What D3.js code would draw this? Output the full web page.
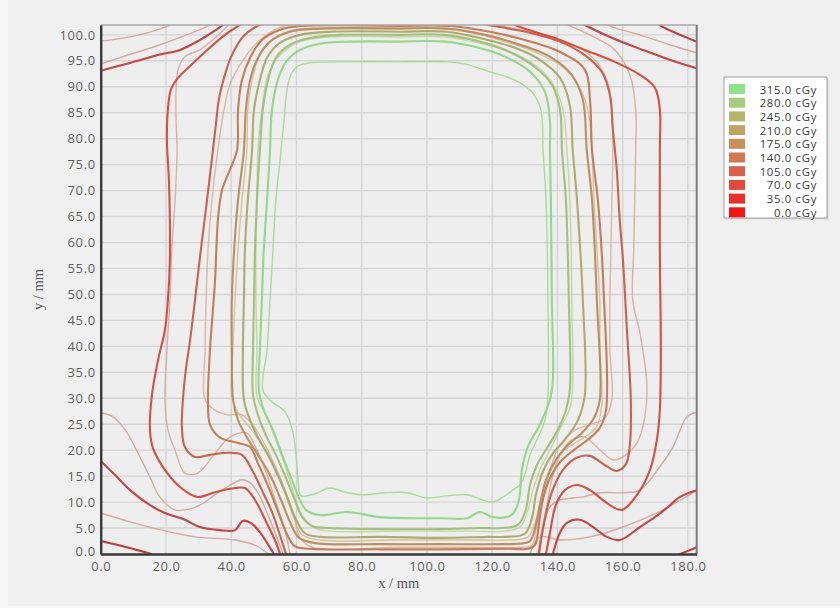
<!DOCTYPE html>
<html>
<head>
<meta charset="utf-8">
<script src="https://cdn.jsdelivr.net/npm/d3@7"></script>
<style>
  body { margin: 0; background: #f7f7f7; }
  svg { display: block; }
</style>
</head>
<body>
<svg id="chart" width="840" height="608"></svg>
<script>
// ---- legend dose levels (cGy) ----
const doseLevels = [315, 280, 245, 210, 175, 140, 105, 70, 35, 0];
const xTicks = [0, 20, 40, 60, 80, 100, 120, 140, 160, 180];
const yTicks = [0, 5, 10, 15, 20, 25, 30, 35, 40, 45, 50, 55, 60, 65, 70, 75, 80, 85, 90, 95, 100];

// ---- measured isodose lines (x mm, y mm) ----
const meas35TopLeft = [[0,93.1],[9,94.6],[18.2,96.2],[24.3,97.1],[30.4,99],[35,100.8],[39,102.6]];
const meas35BottomLeft = [[0,17.9],[4.4,15.2],[9,12.3],[15.1,9.4],[19.7,7.9],[25.8,6.6],[30.4,5.2],[36.6,4.6],[41.2,4.6],[43.6,6.4],[46.4,5.8],[49.4,3.7],[51.9,1.2],[53.1,0]];
const meas35TopRight = [[146.9,102.5],[149,101.7],[156.1,99.6],[166.2,97.1],[174.4,95.2],[183,93.5]];
const meas35BottomRight = [[182.8,12.3],[177.6,11.0],[173.6,8.9],[169.9,7.1],[165.3,5.2],[159.2,2.7],[155.2,3.3],[150.9,5.2],[146.9,6.6],[142.9,6.0],[140.7,4.0],[138.6,0]];
const meas0BottomLeft = [[0,2.5],[8,1.3],[15.5,0]];
const meas0TopRight = [[170,102.5],[172.4,101.5],[177.7,100],[183,98.6]];
const meas0BottomRight = [[177.6,0],[180.8,0.8],[183,1.4]];

const meas70Left = [[44.2,102.5],[38.1,100.0],[32.0,96.7],[27.4,94.0],[23.7,91.7],[21.5,89.4],[20.6,85.6],[20.3,79.8],[20.9,72.1],[21.2,64.4],[21.2,56.6],[20.6,48.9],[19.7,43.2],[17.6,37.4],[15.7,30.6],[15.1,23.9],[16.0,20.4],[19.7,16.2],[24.3,12.9],[29.5,11.0],[35.0,11.9],[41.2,12.7],[44.2,12.7],[47.3,10.4],[50.4,6.6],[53.4,2.7],[55.0,0]];
const meas70Right = [[136.5,0],[137.7,4.0],[139.5,9.4],[142.3,12.3],[146.0,13.3],[150.0,12.3],[155.2,9.8],[159.8,8.5],[164.4,11.4],[168.4,16.2],[170.5,22.0],[171.4,27.7],[171.7,39.3],[171.4,58.6],[171.4,77.8],[171.4,85.6],[169.9,89.8],[165.3,92.3],[157.6,94.8],[148.4,97.1],[139.2,99.4],[128.5,101.5],[125.4,102.5]];

const meas105Left = [[50.4,102.5],[44.2,100.0],[40.2,96.1],[37.8,91.7],[36.2,87.5],[35.3,82.7],[34.4,77.8],[32.6,68.2],[30.7,58.6],[28.9,48.9],[27.4,41.2],[26.1,35.5],[25.2,29.7],[24.9,24.5],[25.8,20.6],[28.9,18.7],[33.5,19.1],[39.0,19.5],[43.3,19.1],[46.4,16.2],[49.4,12.3],[52.5,8.1],[54.9,3.7],[56.8,0]];
const meas105Right = [[134.3,0],[135.5,4.6],[137.1,9.4],[138.9,12.9],[141.7,16.2],[145.7,18.5],[150.0,18.9],[154.6,17.1],[158.2,16.0],[161.0,17.3],[162.2,21.0],[162.5,29.7],[161.3,43.2],[160.1,56.6],[159.1,64.4],[158.2,74.0],[157.0,81.7],[156.1,88.4],[153.6,92.9],[148.4,96.1],[140.8,98.7],[131.6,100.4],[122.4,101.5],[113.2,102.5]];

const meas140 = [[91.7,101.7],[61.1,101.7],[55.0,101.0],[49.4,99.0],[45.8,95.6],[43.3,91.3],[42.1,85.6],[41.8,77.8],[39.6,74.0],[37.2,70.1],[36.0,64.9],[35.0,52.2],[33.5,39.3],[32.9,29.7],[33.5,24.9],[36.6,22.4],[42.1,21.4],[45.8,20.6],[48.2,17.5],[51.3,13.1],[54.3,8.3],[56.8,4.2],[59.5,1.5],[64.1,1.0],[85.6,0.9],[104.0,0.9],[125.4,1.0],[131.0,1.0],[133.1,1.7],[134.3,5.6],[135.5,10.4],[137.7,14.6],[140.8,17.7],[145.0,20.0],[149.3,22.0],[153.0,24.3],[154.9,27.7],[154.3,48.9],[152.4,68.2],[150.6,77.8],[150.0,87.5],[148.4,93.3],[140.8,96.7],[130.0,99.0],[119.3,100.6],[107.0,101.7],[91.7,101.7]];

const meas175 = [[91.7,101.2],[67.2,101.2],[58.0,100.6],[51.9,98.7],[48.2,95.6],[45.8,91.3],[44.5,85.6],[43.9,77.8],[42.1,68.2],[40.9,58.6],[40.2,48.9],[40.2,39.3],[40.6,29.7],[42.1,25.8],[44.8,22.5],[48.2,19.1],[51.9,15.2],[55.3,10.4],[58.0,6.2],[60.8,3.1],[65.7,2.1],[85.6,1.9],[104.0,1.9],[123.9,1.9],[128.5,2.0],[131.6,2.5],[133.4,5.6],[134.6,9.4],[136.5,14.3],[139.5,18.1],[143.2,21.0],[147.5,23.3],[151.2,26.2],[153.0,29.7],[152.1,48.9],[150.6,68.2],[149.0,77.8],[147.8,87.5],[144.4,92.3],[137.7,95.8],[128.5,98.1],[117.8,100.0],[106.1,101.2],[91.7,101.2]];

const meas245 = [[91.7,100.6],[70.3,100.6],[61.1,100.0],[55.0,98.5],[51.0,95.6],[48.8,91.3],[47.0,85.6],[46.4,77.8],[45.1,68.2],[44.2,58.6],[43.9,48.9],[43.6,39.3],[43.9,29.7],[45.8,25.8],[48.2,22.5],[51.3,19.1],[54.3,15.2],[57.1,11.0],[59.9,6.6],[62.6,4.0],[67.2,3.3],[85.6,3.3],[104.0,3.1],[119.3,3.3],[123.9,3.3],[130.0,3.9],[132.2,6.9],[133.4,11.4],[135.5,15.8],[138.3,19.1],[142.3,22.0],[146.3,25.8],[148.4,30.6],[147.8,48.9],[146.0,68.2],[144.7,77.8],[143.8,86.5],[140.8,91.7],[134.6,95.2],[127.0,97.5],[116.2,99.4],[106.1,100.6],[91.7,100.6]];

const meas280 = [[91.7,100.0],[73.3,100.0],[64.1,99.4],[58.0,98.1],[53.7,95.6],[51.3,91.3],[49.7,85.6],[48.8,77.8],[47.9,68.2],[47.3,58.6],[47.0,48.9],[46.7,39.3],[46.7,30.6],[48.2,26.8],[50.6,22.9],[53.7,19.1],[56.8,14.6],[59.5,10.4],[62.0,6.9],[64.8,5.4],[70.3,5.0],[85.6,4.8],[104.0,4.8],[116.2,5.0],[122.4,5.0],[127.9,5.6],[130.3,8.5],[131.6,13.3],[133.7,17.1],[136.8,20.4],[140.1,23.9],[142.6,27.7],[143.8,31.6],[143.5,48.9],[142.6,68.2],[141.4,77.8],[140.8,85.6],[138.3,90.4],[133.1,93.8],[125.4,96.7],[116.2,98.7],[105.5,100.0],[91.7,100.0]];

const meas315 = [[91.7,98.7],[76.4,98.7],[67.2,98.3],[61.1,97.1],[56.8,94.8],[54.3,91.3],[52.5,85.6],[51.9,77.8],[51.0,68.2],[50.0,58.6],[49.4,48.9],[48.8,39.3],[48.5,31.6],[50.0,27.7],[52.8,23.9],[55.6,19.1],[58.6,14.3],[60.8,10.8],[62.9,8.5],[67.2,7.5],[75.5,8.1],[85.6,7.1],[95.7,6.9],[104.0,6.9],[112.3,6.9],[116.2,8.1],[120.2,7.1],[124.5,7.1],[126.3,7.7],[128.2,10.4],[129.1,16.2],[130.9,20.6],[134.6,24.9],[137.7,29.7],[138.6,33.5],[138.3,48.9],[138.0,68.2],[137.7,77.8],[137.7,83.6],[136.2,89.0],[131.6,92.9],[123.9,95.8],[114.7,97.7],[105.5,98.7],[91.7,98.7]];

// ---- calculated isodose lines (x mm, y mm) ----
const calc35TopLeftA = [[0,98.8],[9,99.6],[19.7,101.5],[22.8,102.5]];
const calc35TopLeftB = [[0,94.4],[6.8,95.8],[18.2,98.1],[30.4,101],[35,102.3]];
const calc35BottomLeft = [[0,7.9],[9,6.2],[18.8,4.6],[29,3.3],[41.2,2.7],[47.3,1.7],[51.4,0]];
const calc35TopRight = [[152.9,102.5],[157.9,101.3],[165.2,100],[174.4,98.1],[183,96.5]];
const calc35BottomRight = [[131.6,0],[134.7,3.3],[140.9,2.7],[150.0,3.3],[160.1,5.2],[170.5,7.9],[183,12.3]];
const calc70Left = [[0.1,27.2],[3.8,26.4],[7.5,23.9],[10.5,20.6],[15.1,14.8],[18.2,10.9],[22.8,8.5],[27.4,8.7],[30.4,9.4],[35.0,11.4],[39.0,13.0],[43.3,14.3],[45.8,13.7],[48.2,11.8],[51.3,7.5],[54.3,2.7],[55.9,0]];
const calc70Right = [[183,27.4],[179.7,26.4],[175.4,20.6],[171.4,16.8],[165.3,12.3],[160.1,11.8],[153.0,11.8],[147.8,11.0],[140.8,10.4],[137.7,9.1],[135.5,4.6],[134.6,0]];
const calc105Left = [[40.2,102.5],[35.0,99.4],[30.4,97.1],[25.8,95.8],[23.7,93.3],[23.1,89.4],[23.1,83.6],[23.4,77.8],[22.8,68.2],[21.8,58.6],[21.2,48.9],[20.3,39.3],[19.7,29.7],[20.6,23.9],[22.8,20.0],[25.8,15.6],[29.8,15.6],[34.7,19.1],[39.6,22.5],[44.8,23.3],[47.9,20.0],[51.0,15.2],[54.0,9.4],[56.5,4.6],[58.0,0]];
const calc105Right = [[134.0,0],[135.2,4.6],[136.8,9.4],[138.3,14.3],[140.8,19.1],[144.4,22.0],[148.4,22.5],[152.1,20.6],[157.0,18.1],[160.1,18.7],[164.4,21.4],[166.8,26.4],[167.4,33.0],[165.3,42.6],[163.1,48.9],[163.4,58.6],[163.7,68.2],[164.0,77.8],[164.0,85.6],[162.2,92.3],[157.6,97.1],[149.9,100.0],[140.8,102.5]];
const calc140 = [[61.1,102.5],[53.4,101.0],[47.3,98.1],[42.7,94.2],[39.6,90.4],[37.8,85.6],[35.9,77.8],[34.1,68.2],[32.9,58.6],[32.3,48.9],[32.0,39.3],[32.0,29.7],[35.0,27.7],[39.0,26.8],[43.3,26.8],[47.3,24.3],[50.4,21.0],[54.0,16.2],[57.1,11.4],[59.5,6.6],[61.1,3.1],[64.8,1.3],[91.7,1.3],[113.2,1.3],[128.5,1.3],[132.2,1.7],[133.7,5.6],[135.5,10.4],[137.7,16.2],[140.8,21.0],[145.4,23.9],[150.0,24.9],[154.6,26.2],[156.7,29.7],[156.1,39.3],[156.1,48.9],[156.4,58.6],[156.7,68.2],[157.0,77.8],[156.7,85.6],[155.2,91.3],[150.0,96.1],[140.8,99.0],[128.5,101.0],[116.2,102.5]];
const calc210 = [[91.7,101.3],[67.2,101.3],[59.5,101.0],[53.4,99.4],[48.8,96.1],[46.4,91.3],[45.1,85.6],[44.8,77.8],[43.3,68.2],[42.1,58.6],[41.2,48.9],[40.5,39.3],[40.2,30.3],[42.1,27.2],[45.8,24.3],[49.4,21.0],[53.1,16.6],[56.5,11.8],[59.2,6.9],[61.7,3.7],[67.2,2.7],[91.7,2.7],[113.2,2.7],[125.4,2.7],[131.0,3.3],[133.4,6.6],[135.2,11.0],[137.7,15.8],[141.7,19.7],[147.0,22.0],[151.8,24.3],[153.6,28.7],[153.0,39.3],[153.0,48.9],[152.1,58.6],[151.2,68.2],[150.6,77.8],[149.3,85.6],[146.3,90.4],[140.8,94.2],[131.6,97.1],[122.4,99.0],[110.1,101.0],[97.9,101.3],[91.7,101.3]];
const calc280 = [[91.7,99.6],[70.3,99.6],[61.1,98.7],[55.0,96.1],[51.3,92.3],[49.4,85.6],[48.2,77.8],[47.9,68.2],[47.6,58.6],[47.6,48.9],[47.9,39.3],[47.9,30.3],[50.6,26.8],[53.7,22.0],[56.5,17.1],[58.9,12.3],[61.7,7.5],[65.7,5.0],[70.3,4.4],[91.7,4.4],[113.2,4.4],[123.9,4.4],[128.5,5.2],[131.0,8.5],[132.5,12.3],[134.6,16.2],[137.7,20.0],[141.4,24.9],[144.1,28.7],[144.4,48.9],[143.8,68.2],[142.9,77.8],[141.7,85.6],[138.3,90.9],[133.1,94.2],[123.9,97.1],[113.2,98.8],[105.5,99.6],[91.7,99.6]];
const calc315 = [[91.7,94.8],[76.4,94.8],[64.1,94.6],[60.5,94.0],[58.3,92.3],[57.1,89.4],[56.2,83.6],[55.3,77.8],[53.7,68.2],[52.8,58.6],[51.9,48.9],[51.0,39.3],[49.7,31.6],[52.5,29.3],[56.5,27.4],[58.6,24.3],[59.9,19.1],[60.5,14.3],[61.4,11.2],[65.7,11.6],[70.3,12.7],[74.9,11.9],[80.4,11.4],[87.1,11.8],[93.9,11.8],[100.0,10.8],[106.1,11.2],[112.3,11.4],[116.2,10.6],[120.2,10.0],[123.9,11.2],[126.3,12.3],[128.5,13.3],[130.0,15.2],[131.6,19.1],[133.7,22.0],[136.2,25.8],[137.1,30.6],[137.1,48.9],[136.5,68.2],[135.6,77.8],[134.9,85.6],[132.2,89.0],[127.0,91.3],[119.3,92.9],[111.6,94.4],[106.1,94.8],[91.7,94.8]];

// line list: which data array belongs to which level and set
const isodoseLines = [
  { pts: calc35TopLeftA, level: 35, set: "calc" },
  { pts: calc35TopLeftB, level: 35, set: "calc" },
  { pts: calc35BottomLeft, level: 35, set: "calc" },
  { pts: calc35TopRight, level: 35, set: "calc" },
  { pts: calc35BottomRight, level: 35, set: "calc" },
  { pts: calc70Left, level: 70, set: "calc" },
  { pts: calc70Right, level: 70, set: "calc" },
  { pts: calc105Left, level: 105, set: "calc" },
  { pts: calc105Right, level: 105, set: "calc" },
  { pts: calc140, level: 140, set: "calc" },
  { pts: calc210, level: 210, set: "calc" },
  { pts: calc280, level: 280, set: "calc" },
  { pts: calc315, level: 315, set: "calc" },
  { pts: meas0BottomLeft, level: 0, set: "meas" },
  { pts: meas0TopRight, level: 0, set: "meas" },
  { pts: meas0BottomRight, level: 0, set: "meas" },
  { pts: meas35TopLeft, level: 35, set: "meas" },
  { pts: meas35BottomLeft, level: 35, set: "meas" },
  { pts: meas35TopRight, level: 35, set: "meas" },
  { pts: meas35BottomRight, level: 35, set: "meas" },
  { pts: meas70Left, level: 70, set: "meas" },
  { pts: meas70Right, level: 70, set: "meas" },
  { pts: meas105Left, level: 105, set: "meas" },
  { pts: meas105Right, level: 105, set: "meas" },
  { pts: meas140, level: 140, set: "meas" },
  { pts: meas175, level: 175, set: "meas" },
  { pts: meas245, level: 245, set: "meas" },
  { pts: meas280, level: 280, set: "meas" },
  { pts: meas315, level: 315, set: "meas" }
];

// ---- styling ----
const legendColor = {
  315: "#8fe28c", 280: "#a6cd7d", 245: "#b4b66c", 210: "#c0a464", 175: "#c98e5a",
  140: "#d07854", 105: "#d9604a", 70: "#e14a3b", 35: "#e9302b", 0: "#f41616"
};
const measColor = {
  315: "#8dd784", 280: "#9fbf74", 245: "#a9a866", 210: "#b89a5e", 175: "#b88a5a",
  140: "#c47650", 105: "#c85a45", 70: "#d6473a", 35: "#c53a3d", 0: "#bf2f32"
};
const calcColor = {
  315: "#a2d98f", 280: "#bcd3a0", 245: "#cbc6a0", 210: "#d3bc98", 175: "#d9b49a",
  140: "#ddb09c", 105: "#d9a898", 70: "#cfa39a", 35: "#d2a29c", 0: "#d09a9a"
};

const svg = d3.select("#chart");
const W = 840, H = 608;
const frame = { left: 100.7, right: 696.7, top: 25, bottom: 554 };

const x = d3.scaleLinear().domain([0, 182.7]).range([frame.left, frame.right]);
const y = d3.scaleLinear().domain([0, 101.9]).range([frame.bottom, frame.top]);

// panel background
svg.append("rect").attr("x", 8).attr("y", 0).attr("width", W - 8).attr("height", 606).attr("fill", "#f0f0f0");

// plot background
svg.append("rect")
  .attr("x", frame.left).attr("y", frame.top)
  .attr("width", frame.right - frame.left).attr("height", frame.bottom - frame.top)
  .attr("fill", "#eeeeee");

// grid
const grid = svg.append("g").attr("stroke", "#d5d5d5").attr("stroke-width", 1.4);
grid.selectAll("line.v").data(xTicks).join("line")
  .attr("x1", d => x(d)).attr("x2", d => x(d))
  .attr("y1", frame.top).attr("y2", frame.bottom);
grid.selectAll("line.h").data(yTicks).join("line")
  .attr("x1", frame.left).attr("x2", frame.right)
  .attr("y1", d => y(d)).attr("y2", d => y(d));

// clip for isodose lines
svg.append("defs").append("clipPath").attr("id", "plotClip")
  .append("rect")
  .attr("x", frame.left).attr("y", frame.top)
  .attr("width", frame.right - frame.left).attr("height", frame.bottom - frame.top);

const line = d3.line()
  .x(d => x(d[0])).y(d => y(d[1]))
  .curve(d3.curveCatmullRom.alpha(0.5));

const lines = svg.append("g").attr("clip-path", "url(#plotClip)")
  .attr("fill", "none").attr("stroke-linejoin", "round").attr("stroke-linecap", "round");

lines.selectAll("path").data(isodoseLines).join("path")
  .attr("d", d => line(d.pts))
  .attr("stroke", d => d.set === "meas" ? measColor[d.level] : calcColor[d.level])
  .attr("stroke-width", d => d.set === "meas" ? 2.1 : 1.4)
  .attr("stroke-opacity", d => d.set === "meas" ? 0.95 : 0.9);

// frame borders
svg.append("line").attr("x1", frame.left).attr("x2", frame.right).attr("y1", frame.top).attr("y2", frame.top)
  .attr("stroke", "#a8a8a8").attr("stroke-width", 1.5);
svg.append("line").attr("x1", frame.right).attr("x2", frame.right).attr("y1", frame.top).attr("y2", frame.bottom)
  .attr("stroke", "#7a7a7a").attr("stroke-width", 2);

// axes
const fmt = d3.format(".1f");
const yAxis = svg.append("g").attr("transform", `translate(${frame.left},0)`)
  .call(d3.axisLeft(y).tickValues(yTicks).tickFormat(fmt).tickSize(0).tickPadding(5));
const xAxis = svg.append("g").attr("transform", `translate(0,${frame.bottom})`)
  .call(d3.axisBottom(x).tickValues(xTicks).tickFormat(fmt).tickSize(0).tickPadding(8));

[xAxis, yAxis].forEach(g => {
  g.select(".domain").attr("stroke", "#3a3a3a").attr("stroke-width", 2.4);
  g.selectAll("text")
    .attr("font-family", "'Open Sans', sans-serif")
    .attr("font-size", 13)
    .attr("letter-spacing", 0.6)
    .attr("fill", "#5f5f5f");
});
// lift the lowest y label slightly so it clears the x origin label
yAxis.selectAll(".tick text").filter(d => d === 0).attr("dy", "0.1em");

// axis titles
svg.append("text")
  .attr("x", (frame.left + frame.right) / 2).attr("y", 588)
  .attr("text-anchor", "middle")
  .attr("font-family", "'Liberation Serif', serif").attr("font-size", 14.5)
  .attr("fill", "#555")
  .text("x / mm");
svg.append("text")
  .attr("transform", `translate(43,${(frame.top + frame.bottom) / 2}) rotate(-90)`)
  .attr("text-anchor", "middle")
  .attr("font-family", "'Liberation Serif', serif").attr("font-size", 14.5)
  .attr("fill", "#555")
  .text("y / mm");

// legend
const legend = svg.append("g").attr("transform", "translate(724,77)");
legend.append("rect").attr("x", 1.5).attr("y", 1.5).attr("width", 103).attr("height", 141)
  .attr("fill", "#d8d8d8");
legend.append("rect").attr("width", 103).attr("height", 141)
  .attr("fill", "#ffffff").attr("stroke", "#a0a0a0").attr("stroke-width", 1);
const rowH = 13.7;
const rows = legend.selectAll("g.row").data(doseLevels).join("g")
  .attr("transform", (d, i) => `translate(0,${7 + i * rowH})`);
rows.append("rect").attr("x", 5).attr("y", 0).attr("width", 16).attr("height", 10)
  .attr("fill", d => legendColor[d]);
rows.append("text").attr("x", 93).attr("y", 9.5)
  .attr("text-anchor", "end")
  .attr("font-family", "'Open Sans', sans-serif").attr("font-size", 11.3)
  .attr("letter-spacing", 0.7)
  .attr("fill", "#3a3a3a")
  .text(d => fmt(d) + " cGy");
</script>
</body>
</html>
